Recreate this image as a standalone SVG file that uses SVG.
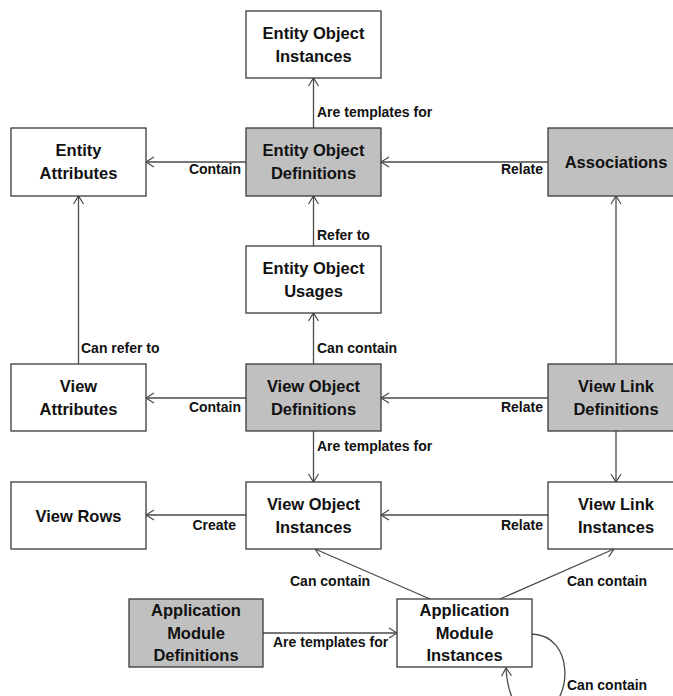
<svg xmlns="http://www.w3.org/2000/svg" width="673" height="696" viewBox="0 0 673 696">
<style>
.box{fill:#ffffff;stroke:#3a3a3a;stroke-width:1.3}
.def{fill:#c0c0c0;stroke:#3a3a3a;stroke-width:1.3}
.nt{font-family:"Liberation Sans",Arial,sans-serif;font-weight:bold;font-size:16.5px;fill:#111;text-anchor:middle}
.el{font-family:"Liberation Sans",Arial,sans-serif;font-weight:bold;font-size:14px;fill:#111}
.r{text-anchor:end}
.ln{fill:none;stroke:#4a4a4a;stroke-width:1.3;marker-end:url(#ah)}
</style>
<defs>
<marker id="ah" markerUnits="userSpaceOnUse" markerWidth="14" markerHeight="14" refX="10" refY="6" orient="auto">
<path d="M2,1 L10,6 L2,11" fill="none" stroke="#4a4a4a" stroke-width="1.2"/>
</marker>
</defs>
<rect width="673" height="696" fill="#ffffff"/>
<g id="connectors">
<line class="ln" x1="313.5" y1="128" x2="313.5" y2="78"/>
<line class="ln" x1="246" y1="162" x2="146" y2="162"/>
<line class="ln" x1="548" y1="162" x2="381" y2="162"/>
<line class="ln" x1="313.5" y1="246" x2="313.5" y2="196"/>
<line class="ln" x1="78.5" y1="364" x2="78.5" y2="196"/>
<line class="ln" x1="313.5" y1="364" x2="313.5" y2="313"/>
<line class="ln" x1="246" y1="398" x2="146" y2="398"/>
<line class="ln" x1="548" y1="398" x2="381" y2="398"/>
<line class="ln" x1="616" y1="364" x2="616" y2="196"/>
<line class="ln" x1="313.5" y1="431" x2="313.5" y2="482"/>
<line class="ln" x1="616" y1="431" x2="616" y2="482"/>
<line class="ln" x1="246" y1="515" x2="146" y2="515"/>
<line class="ln" x1="548" y1="515" x2="381" y2="515"/>
<line class="ln" x1="430" y1="599" x2="315" y2="549"/>
<line class="ln" x1="500" y1="599" x2="614" y2="549"/>
<line class="ln" x1="263" y1="633" x2="397" y2="633"/>
<path class="ln" d="M532,634 C575,636 572,700 545,712 C520,722 508,700 506,668"/>
<text class="el" x="317" y="117">Are templates for</text>
<text class="el r" x="241" y="174">Contain</text>
<text class="el r" x="543" y="174">Relate</text>
<text class="el" x="317" y="240">Refer to</text>
<text class="el" x="81" y="353">Can refer to</text>
<text class="el" x="317" y="353">Can contain</text>
<text class="el r" x="241" y="412">Contain</text>
<text class="el r" x="543" y="412">Relate</text>
<text class="el" x="317" y="451">Are templates for</text>
<text class="el r" x="236" y="530">Create</text>
<text class="el r" x="543" y="530">Relate</text>
<text class="el" x="290" y="586">Can contain</text>
<text class="el" x="567" y="586">Can contain</text>
<text class="el" x="273" y="647">Are templates for</text>
<text class="el" x="567" y="690">Can contain</text>
</g>
<g id="entity-object-instances"><rect class="box" x="246" y="11" width="135" height="67"/><text class="nt" x="313.5" y="38.5">Entity Object</text><text class="nt" x="313.5" y="61.5">Instances</text></g>
<g id="entity-attributes"><rect class="box" x="11" y="128" width="135" height="68"/><text class="nt" x="78.5" y="156">Entity</text><text class="nt" x="78.5" y="179">Attributes</text></g>
<g id="entity-object-definitions"><rect class="def" x="246" y="128" width="135" height="68"/><text class="nt" x="313.5" y="156">Entity Object</text><text class="nt" x="313.5" y="179">Definitions</text></g>
<g id="associations"><rect class="def" x="548" y="128" width="136" height="68"/><text class="nt" x="616" y="168">Associations</text></g>
<g id="entity-object-usages"><rect class="box" x="246" y="246" width="135" height="67"/><text class="nt" x="313.5" y="273.5">Entity Object</text><text class="nt" x="313.5" y="296.5">Usages</text></g>
<g id="view-attributes"><rect class="box" x="11" y="364" width="135" height="67"/><text class="nt" x="78.5" y="391.5">View</text><text class="nt" x="78.5" y="414.5">Attributes</text></g>
<g id="view-object-definitions"><rect class="def" x="246" y="364" width="135" height="67"/><text class="nt" x="313.5" y="391.5">View Object</text><text class="nt" x="313.5" y="414.5">Definitions</text></g>
<g id="view-link-definitions"><rect class="def" x="548" y="364" width="136" height="67"/><text class="nt" x="616" y="391.5">View Link</text><text class="nt" x="616" y="414.5">Definitions</text></g>
<g id="view-rows"><rect class="box" x="11" y="482" width="135" height="67"/><text class="nt" x="78.5" y="521.5">View Rows</text></g>
<g id="view-object-instances"><rect class="box" x="246" y="482" width="135" height="67"/><text class="nt" x="313.5" y="509.5">View Object</text><text class="nt" x="313.5" y="532.5">Instances</text></g>
<g id="view-link-instances"><rect class="box" x="548" y="482" width="136" height="67"/><text class="nt" x="616" y="509.5">View Link</text><text class="nt" x="616" y="532.5">Instances</text></g>
<g id="application-module-definitions"><rect class="def" x="129" y="599" width="134" height="68"/><text class="nt" x="196" y="616">Application</text><text class="nt" x="196" y="638.5">Module</text><text class="nt" x="196" y="661">Definitions</text></g>
<g id="application-module-instances"><rect class="box" x="397" y="599" width="135" height="68"/><text class="nt" x="464.5" y="616">Application</text><text class="nt" x="464.5" y="638.5">Module</text><text class="nt" x="464.5" y="661">Instances</text></g>
</svg>
